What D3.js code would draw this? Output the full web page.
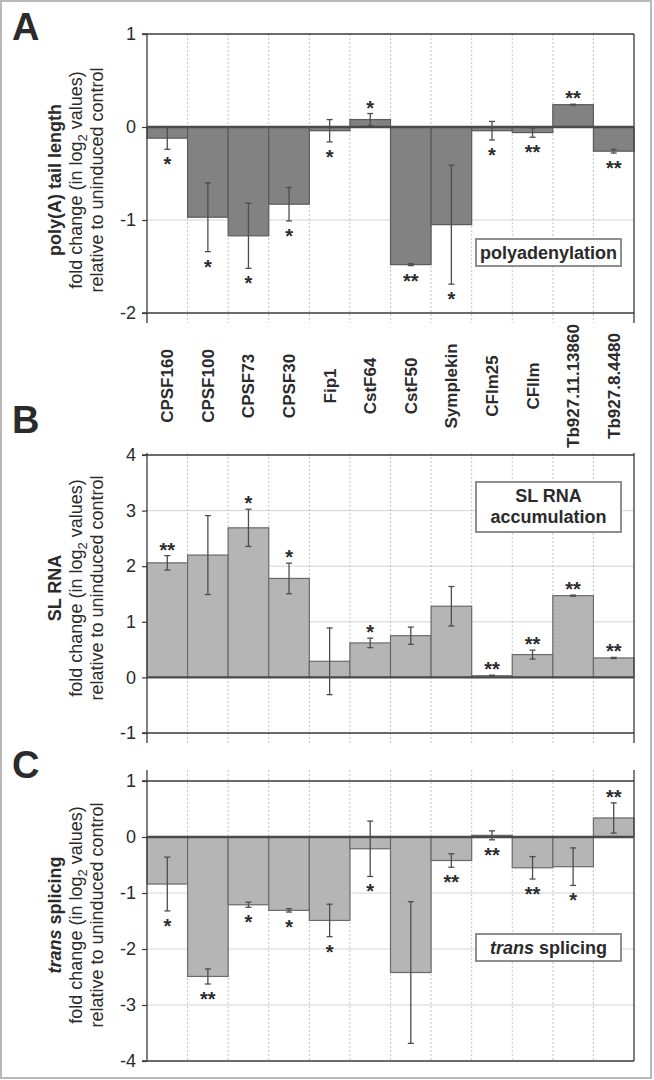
<!DOCTYPE html>
<html>
<head>
<meta charset="utf-8">
<script src="https://cdn.jsdelivr.net/npm/d3@7"></script>
<style>
  body { margin: 0; background: #fff; }
  svg text { font-family: "Liberation Sans", Arial, sans-serif; fill: #2b2b2b; }
</style>
</head>
<body>
<div id="chart"></div>
<script>
// categories (knocked-down factors)
var factors = ["CPSF160", "CPSF100", "CPSF73", "CPSF30", "Fip1", "CstF64", "CstF50",
               "Symplekin", "CFIm25", "CFIIm", "Tb927.11.13860", "Tb927.8.4480"];

// A: poly(A) tail length
var polyaValues = [-0.12, -0.97, -1.17, -0.83, -0.04, 0.08, -1.48, -1.05, -0.04, -0.06, 0.24, -0.26];
var polyaErrors = [0.12, 0.37, 0.35, 0.18, 0.12, 0.065, 0.01, 0.64, 0.10, 0.05, 0.005, 0.02];
var polyaStars  = ["*", "*", "*", "*", "*", "*", "**", "*", "*", "**", "**", "**"];
var polyaTicks  = [1, 0, -1, -2];

// B: SL RNA accumulation
var slValues = [2.06, 2.20, 2.69, 1.78, 0.29, 0.62, 0.75, 1.28, 0.03, 0.41, 1.47, 0.35];
var slErrors = [0.13, 0.71, 0.335, 0.275, 0.60, 0.085, 0.155, 0.355, 0.01, 0.08, 0.01, 0.01];
var slStars  = ["**", "", "*", "*", "", "*", "", "", "**", "**", "**", "**"];
var slTicks  = [4, 3, 2, 1, 0, -1];

// C: trans splicing
var splicingValues = [-0.84, -2.49, -1.21, -1.31, -1.49, -0.21, -2.42, -0.42, 0.03, -0.55, -0.53, 0.34];
var splicingErrors = [0.48, 0.135, 0.045, 0.03, 0.29, 0.495, 1.265, 0.12, 0.08, 0.20, 0.335, 0.27];
var splicingStars  = ["*", "**", "*", "*", "*", "*", "", "**", "**", "**", "*", "**"];
var splicingStarsBelow = ["CFIm25"];
var splicingTicks  = [1, 0, -1, -2, -3, -4];

var width = 654;
var height = 1080;
var left = 147, right = 634;

var svg = d3.select("#chart")
            .append("svg")
            .attr("width", width)
            .attr("height", height);

// outer frame
svg.append("rect")
   .attr("x", 1).attr("y", 1)
   .attr("width", 650).attr("height", 1077)
   .attr("fill", "none")
   .attr("stroke", "#b8b8b8")
   .attr("stroke-width", 2);

var x = d3.scaleBand()
          .domain(factors)
          .range([left, right])
          .padding(0);

function drawPanel(opt) {
    var y = d3.scaleLinear()
              .domain([opt.ticks[opt.ticks.length - 1], opt.ticks[0]])
              .range([opt.bottom, opt.top]);

    var g = svg.append("g");
    var rows = factors.map(function(f, i) {
        return { name: f, value: opt.values[i], err: opt.errors[i], star: opt.stars[i] };
    });

    // light horizontal gridlines
    g.selectAll(".grid")
     .data(opt.ticks.slice(1, -1).filter(function(t) { return t !== 0; }))
     .enter()
     .append("line")
     .attr("x1", left).attr("x2", right)
     .attr("y1", (d) => y(d)).attr("y2", (d) => y(d))
     .attr("stroke", "#d4d4d4")
     .attr("stroke-width", 1);

    // dotted category separators
    g.selectAll(".sep")
     .data(factors.slice(1))
     .enter()
     .append("line")
     .attr("x1", (d) => x(d)).attr("x2", (d) => x(d))
     .attr("y1", opt.lineTop).attr("y2", opt.lineBottom)
     .attr("stroke", "#c4c4c4")
     .attr("stroke-dasharray", "2,2")
     .attr("stroke-width", 1);

    // bars
    g.selectAll(".bar")
     .data(rows)
     .enter()
     .append("rect")
     .attr("x", (d) => x(d.name))
     .attr("width", x.bandwidth())
     .attr("y", (d) => y(Math.max(0, d.value)))
     .attr("height", (d) => Math.abs(y(d.value) - y(0)))
     .attr("fill", opt.fill)
     .attr("stroke", opt.stroke)
     .attr("stroke-width", 1.2);

    // top and bottom frame lines
    g.selectAll(".edge")
     .data([opt.ticks[0], opt.ticks[opt.ticks.length - 1]])
     .enter()
     .append("line")
     .attr("x1", left - 5).attr("x2", right)
     .attr("y1", (d) => y(d)).attr("y2", (d) => y(d))
     .attr("stroke", "#3a3a3a")
     .attr("stroke-width", 1.5);

    // side lines
    g.selectAll(".side")
     .data([left, right])
     .enter()
     .append("line")
     .attr("x1", (d) => d).attr("x2", (d) => d)
     .attr("y1", opt.lineTop).attr("y2", opt.lineBottom)
     .attr("stroke", "#3a3a3a")
     .attr("stroke-width", 1.3);

    // y axis ticks and labels
    var axis = d3.axisLeft(y)
                 .tickValues(opt.ticks)
                 .tickSize(5)
                 .tickFormat((d) => String(d));
    var ax = g.append("g")
              .attr("transform", "translate(" + left + ",0)")
              .call(axis);
    ax.select(".domain").remove();
    ax.selectAll(".tick line").attr("stroke", "#3a3a3a").attr("stroke-width", 1.2);
    ax.selectAll(".tick text")
      .attr("x", -11)
      .style("font-size", "18px")
      .style("font-family", "'Liberation Sans', Arial, sans-serif")
      .attr("fill", "#2b2b2b");

    // zero line
    g.append("line")
     .attr("x1", left).attr("x2", right)
     .attr("y1", y(0)).attr("y2", y(0))
     .attr("stroke", "#4a4a4a")
     .attr("stroke-width", 2.4);

    // error bars
    var eb = g.selectAll(".err")
              .data(rows)
              .enter()
              .append("g")
              .attr("stroke", "#4d4d4d")
              .attr("stroke-width", 1.3);
    eb.append("line")
      .attr("x1", (d) => x(d.name) + x.bandwidth() / 2)
      .attr("x2", (d) => x(d.name) + x.bandwidth() / 2)
      .attr("y1", (d) => y(d.value + d.err))
      .attr("y2", (d) => y(d.value - d.err));
    [1, -1].forEach(function(s) {
        eb.append("line")
          .attr("x1", (d) => x(d.name) + x.bandwidth() / 2 - 3)
          .attr("x2", (d) => x(d.name) + x.bandwidth() / 2 + 3)
          .attr("y1", (d) => y(d.value + s * d.err))
          .attr("y2", (d) => y(d.value + s * d.err));
    });

    // significance stars
    g.selectAll(".star")
     .data(rows.filter(function(d) { return d.star !== ""; }))
     .enter()
     .append("text")
     .attr("x", (d) => x(d.name) + x.bandwidth() / 2)
     .attr("y", function(d) {
         var below = d.value < 0 || opt.below.indexOf(d.name) >= 0;
         if (below) {
             return y(Math.min(d.value - d.err, d.value)) + 22;
         }
         return y(Math.max(d.value + d.err, d.value)) + 1;
     })
     .attr("text-anchor", "middle")
     .style("font-size", "20px")
     .style("font-weight", "bold")
     .text((d) => d.star);

    // label box
    var box = g.append("g");
    box.append("rect")
       .attr("x", 476).attr("y", opt.boxY)
       .attr("width", 145).attr("height", opt.boxH)
       .attr("fill", "#fff")
       .attr("stroke", "#8f8f8f")
       .attr("stroke-width", 2);
    opt.boxLines(box, 548.5, opt.boxY);

    // y title
    var ty = g.append("text")
              .attr("transform", "translate(0," + opt.titleY + ") rotate(-90)")
              .attr("text-anchor", "middle")
              .style("font-size", "18px");
    opt.title(ty.append("tspan").attr("x", 0).attr("y", 61).style("font-weight", "bold"));
    var l2 = ty.append("tspan").attr("x", 0).attr("y", 82);
    l2.append("tspan").text("fold change (in log");
    l2.append("tspan").attr("dy", 5).style("font-size", "13px").text("2");
    l2.append("tspan").attr("dy", -5).text(" values)");
    ty.append("tspan").attr("x", 0).attr("y", 103).text("relative to uninduced control");

    // panel letter
    svg.append("text")
       .attr("x", 12)
       .attr("y", opt.letterY)
       .style("font-size", "38px")
       .style("font-weight", "bold")
       .text(opt.letter);

    return y;
}

drawPanel({
    values: polyaValues, errors: polyaErrors, stars: polyaStars, ticks: polyaTicks, below: [],
    top: 34, bottom: 313, lineTop: 34, lineBottom: 323,
    fill: "#828282", stroke: "#5a5a5a",
    boxY: 239, boxH: 27,
    boxLines: function(b, cx, by) {
        b.append("text").attr("x", cx).attr("y", by + 20).attr("text-anchor", "middle")
         .style("font-size", "18px").style("font-weight", "bold").text("polyadenylation");
    },
    titleY: 180,
    title: function(t) { t.text("poly(A) tail length"); },
    letter: "A", letterY: 40
});

drawPanel({
    values: slValues, errors: slErrors, stars: slStars, ticks: slTicks, below: [],
    top: 455, bottom: 733, lineTop: 453, lineBottom: 743,
    fill: "#b5b5b5", stroke: "#6a6a6a",
    boxY: 482, boxH: 50,
    boxLines: function(b, cx, by) {
        b.append("text").attr("x", cx).attr("y", by + 20).attr("text-anchor", "middle")
         .style("font-size", "18px").style("font-weight", "bold").text("SL RNA");
        b.append("text").attr("x", cx).attr("y", by + 41).attr("text-anchor", "middle")
         .style("font-size", "18px").style("font-weight", "bold").text("accumulation");
    },
    titleY: 588,
    title: function(t) { t.text("SL RNA"); },
    letter: "B", letterY: 433
});

drawPanel({
    values: splicingValues, errors: splicingErrors, stars: splicingStars, ticks: splicingTicks,
    below: splicingStarsBelow,
    top: 781, bottom: 1061, lineTop: 770, lineBottom: 1061,
    fill: "#b5b5b5", stroke: "#6a6a6a",
    boxY: 934, boxH: 27,
    boxLines: function(b, cx, by) {
        var t = b.append("text").attr("x", cx).attr("y", by + 20).attr("text-anchor", "middle")
                 .style("font-size", "18px").style("font-weight", "bold");
        t.append("tspan").style("font-style", "italic").text("trans");
        t.append("tspan").text(" splicing");
    },
    titleY: 915,
    title: function(t) {
        t.append("tspan").style("font-style", "italic").text("trans");
        t.append("tspan").text(" splicing");
    },
    letter: "C", letterY: 778
});

// category labels between panels A and B, centred on one line
svg.append("g")
   .selectAll("text")
   .data(factors)
   .enter()
   .append("text")
   .attr("transform", (d) => "translate(" + (x(d) + x.bandwidth() / 2 + 6) + ",386) rotate(-90)")
   .attr("text-anchor", "middle")
   .style("font-size", "17px")
   .style("font-weight", "bold")
   .text((d) => d);
</script>
</body>
</html>
